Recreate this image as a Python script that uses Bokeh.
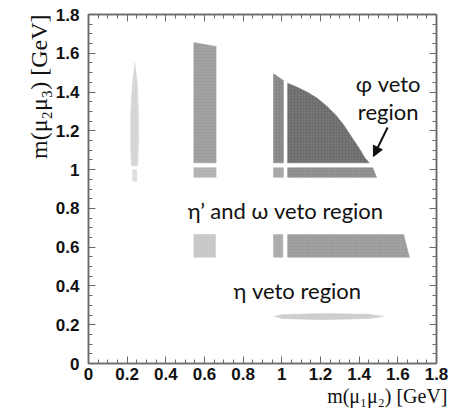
import math
from bokeh.plotting import figure
from bokeh.models import FixedTicker, LinearAxis, Label, Arrow, NormalHead, Title
from bokeh.embed import file_html
from bokeh.resources import INLINE

# ---------------- data ----------------
tick_values = [0, 0.2, 0.4, 0.6, 0.8, 1.0, 1.2, 1.4, 1.6, 1.8]
tick_labels = ["0", "0.2", "0.4", "0.6", "0.8", "1", "1.2", "1.4", "1.6", "1.8"]
minor_values = [i * 0.05 for i in range(37)]

# thin band near m12 ~ 0.24
band024_x = [0.222, 0.217, 0.219, 0.228, 0.240, 0.252, 0.258, 0.259, 0.254]
band024_y = [1.020, 1.150, 1.300, 1.450, 1.550, 1.450, 1.300, 1.150, 1.020]
band024b_x = [0.228, 0.228, 0.250, 0.250]
band024b_y = [0.940, 1.000, 1.000, 0.940]

# region m12 0.55-0.66
r055_top_x = [0.545, 0.545, 0.660, 0.660]
r055_top_y = [1.035, 1.655, 1.635, 1.035]
r055_mid_x = [0.545, 0.545, 0.660, 0.660]
r055_mid_y = [0.960, 1.010, 1.010, 0.960]
r055_low_x = [0.545, 0.545, 0.657, 0.657]
r055_low_y = [0.548, 0.665, 0.665, 0.548]

# region m12 0.955-1.008
r095_top_x = [0.957, 0.957, 1.008, 1.008]
r095_top_y = [1.035, 1.495, 1.460, 1.035]
r095_mid_x = [0.957, 0.957, 1.008, 1.008]
r095_mid_y = [0.960, 1.010, 1.010, 0.960]
r095_low_x = [0.957, 0.957, 1.005, 1.005]
r095_low_y = [0.548, 0.665, 0.665, 0.548]

# phi-veto region bounded by a curved edge
tri_x = [1.030, 1.030, 1.080, 1.130, 1.180, 1.230, 1.280, 1.320, 1.360, 1.400, 1.430, 1.452]
tri_y = [1.035, 1.445, 1.425, 1.400, 1.370, 1.330, 1.280, 1.230, 1.170, 1.110, 1.060, 1.035]
strip_x = [1.030, 1.030, 1.470, 1.490]
strip_y = [0.960, 1.010, 1.010, 0.960]
low_x = [1.030, 1.030, 1.630, 1.660]
low_y = [0.548, 0.665, 0.665, 0.548]

# eta band
eta_x = [0.960, 1.000, 1.200, 1.450, 1.525, 1.450, 1.200, 1.000]
eta_y = [0.243, 0.232, 0.226, 0.232, 0.243, 0.254, 0.258, 0.252]

# ---------------- figure ----------------
p = figure(width=450, height=418, x_range=(0, 1.8), y_range=(0, 1.8),
           output_backend="svg", toolbar_location=None,
           min_border_left=88, min_border_right=14, min_border_top=14, min_border_bottom=55,
           x_axis_location=None, y_axis_location=None)
p.grid.visible = False
p.outline_line_color = "#6a6a6a"
p.outline_line_width = 1.5
p.background_fill_color = "white"
p.border_fill_color = "white"

shapes = [
    (band024_x, band024_y, "#d4d4d4"),
    (band024b_x, band024b_y, "#dcdcdc"),
    (r055_top_x, r055_top_y, "#9c9c9c"),
    (r055_mid_x, r055_mid_y, "#b0b0b0"),
    (r055_low_x, r055_low_y, "#c6c6c6"),
    (r095_top_x, r095_top_y, "#858585"),
    (r095_mid_x, r095_mid_y, "#a6a6a6"),
    (r095_low_x, r095_low_y, "#aaaaaa"),
    (tri_x, tri_y, "#6c6c6c"),
    (strip_x, strip_y, "#8c8c8c"),
    (low_x, low_y, "#9a9a9a"),
    (eta_x, eta_y, "#cccccc"),
]
for xs, ys, c in shapes:
    p.patch(xs, ys, fill_color=c, line_color=c, line_width=0.5,
            hatch_pattern="dot", hatch_color="white", hatch_alpha=0.2, hatch_scale=3)

ticker = FixedTicker(ticks=tick_values, minor_ticks=minor_values)
overrides = {v: l for v, l in zip(tick_values, tick_labels)}
blank = {v: "" for v in tick_values}


def style_axis(ax, labels=True):
    ax.ticker = ticker
    ax.axis_line_color = "#6a6a6a"
    ax.axis_line_width = 1.5
    ax.major_tick_line_color = "#6a6a6a"
    ax.minor_tick_line_color = "#6a6a6a"
    ax.major_tick_in = 7
    ax.major_tick_out = 0
    ax.minor_tick_in = 4
    ax.minor_tick_out = 0
    ax.major_label_text_font = "Liberation Sans"
    ax.major_label_text_font_style = "bold"
    ax.major_label_text_font_size = "17px"
    ax.major_label_text_color = "#111111"
    if labels:
        ax.major_label_overrides = overrides
    else:
        ax.major_label_overrides = blank
        ax.major_label_standoff = 0


bx = LinearAxis(); style_axis(bx); bx.major_label_standoff = 4
lx = LinearAxis(); style_axis(lx); lx.major_label_standoff = 9
tx = LinearAxis(); style_axis(tx, labels=False)
rx = LinearAxis(); style_axis(rx, labels=False)
p.add_layout(bx, "below")
p.add_layout(lx, "left")
p.add_layout(tx, "above")
p.add_layout(rx, "right")

# axis titles (as side titles so they can sit outside the frame)
p.add_layout(Title(text="m(μ₁μ₂) [GeV]", align="right", text_font="Liberation Serif",
                   text_font_size="20px", text_font_style="normal",
                   text_color="#111111", standoff=0, offset=-11), "below")
p.add_layout(Title(text="m(μ₂μ₃) [GeV]", align="right", text_font="Liberation Serif",
                   text_font_size="24px", text_font_style="normal",
                   text_color="#111111", standoff=2, offset=0), "left")

# annotations
txt = dict(text_font="Lato", text_font_size="22px", text_color="#111111",
           text_baseline="alphabetic")
p.add_layout(Label(x=1.55, y=1.443, text="φ veto", text_align="center", **txt))
p.add_layout(Label(x=1.55, y=1.30, text="region", text_align="center", **txt))
p.add_layout(Label(x=1.019, y=0.79, text="η’ and ω veto region", text_align="center", **txt))
p.add_layout(Label(x=1.08, y=0.376, text="η veto region", text_align="center", **txt))
p.add_layout(Arrow(end=NormalHead(size=10, fill_color="#111111", line_color="#111111"),
                   x_start=1.547, y_start=1.217, x_end=1.474, y_end=1.068,
                   line_width=2, line_color="#111111"))

open("out.html", "w").write(file_html(p, INLINE))
